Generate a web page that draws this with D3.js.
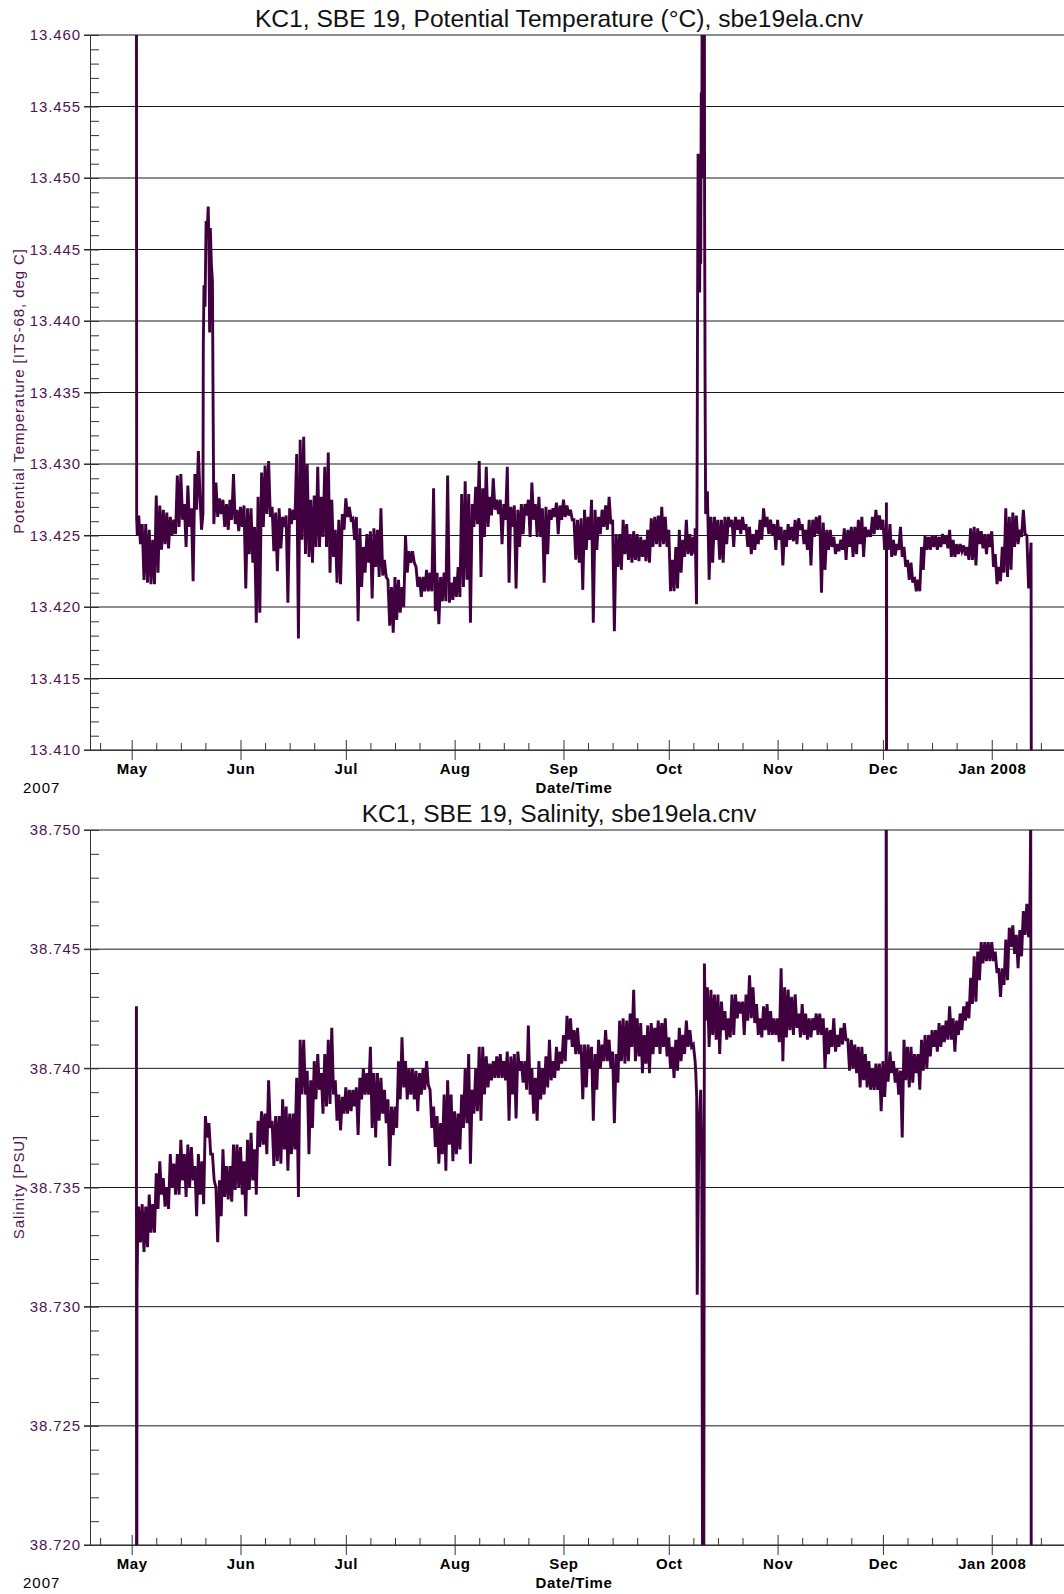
<!DOCTYPE html>
<html>
<head>
<meta charset="utf-8">
<script src="https://cdn.jsdelivr.net/npm/d3@7"></script>
<style>
  body { margin: 0; background: #fff; }
  text { font-family: "Liberation Sans", Arial, sans-serif; }
</style>
</head>
<body>
<div id="maincontent"></div>
<script>
// day offsets are counted from 1 May 2007 00:00 UTC
var dayZero = Date.UTC(2007, 4, 1);
var firstDay = 2;   // first entry of the daily arrays

var monthTicks = ["May", "Jun", "Jul", "Aug", "Sep", "Oct", "Nov", "Dec", "Jan 2008"];
var tempTicks = [13.410, 13.415, 13.420, 13.425, 13.430, 13.435, 13.440, 13.445, 13.450, 13.455, 13.460];
var salTicks = [38.720, 38.725, 38.730, 38.735, 38.740, 38.745, 38.750];

// potential temperature, daily high / low (days 2..256)
var tempHi = [
  13.4264, 13.4258, 13.4258, 13.4254, 13.4247, 13.4278, 13.4271, 13.4268, 13.4266, 13.4263,
  13.4261, 13.4292, 13.4293, 13.4272, 13.4285, 13.4269, 13.4293, 13.4309, null, null,
  null, null, 13.4287, 13.4276, 13.4275, 13.4272, 13.4275, 13.4293, 13.4268, 13.4270,
  13.4271, 13.4269, 13.4269, 13.4256, 13.4277, 13.4294, 13.4299, 13.4302, 13.4270, 13.4266,
  13.4269, 13.4263, 13.4264, 13.4269, 13.4268, 13.4307, 13.4317, 13.4319, 13.4300, 13.4275,
  13.4278, 13.4298, 13.4277, 13.4298, 13.4308, 13.4275, 13.4254, 13.4261, 13.4265, 13.4276,
  13.4270, 13.4262, 13.4263, 13.4255, 13.4242, 13.4251, 13.4253, 13.4255, 13.4254, 13.4269,
  13.4233, 13.4219, 13.4214, 13.4221, 13.4219, 13.4214, 13.4250, 13.4239, 13.4239, 13.4228,
  13.4221, 13.4221, 13.4226, 13.4224, 13.4283, 13.4224, 13.4221, 13.4224, 13.4292, 13.4217,
  13.4221, 13.4228, 13.4279, 13.4288, 13.4279, 13.4272, 13.4284, 13.4302, 13.4283, 13.4298,
  13.4277, 13.4290, 13.4275, 13.4275, 13.4272, 13.4298, 13.4270, 13.4271, 13.4268, 13.4272,
  13.4272, 13.4275, 13.4287, 13.4272, 13.4277, 13.4269, 13.4270, 13.4268, 13.4269, 13.4273,
  13.4271, 13.4275, 13.4271, 13.4268, 13.4261, 13.4261, 13.4262, 13.4268, 13.4263, 13.4275,
  13.4268, 13.4263, 13.4268, 13.4271, 13.4277, 13.4261, 13.4251, 13.4251, 13.4261, 13.4258,
  13.4251, 13.4253, 13.4251, 13.4249, 13.4247, 13.4254, 13.4262, 13.4263, 13.4264, 13.4270,
  13.4263, 13.4254, 13.4233, 13.4242, 13.4254, 13.4247, 13.4261, 13.4251, 13.4249, null,
  null, null, 13.4281, 13.4263, 13.4263, 13.4261, 13.4261, 13.4263, 13.4263, 13.4261,
  13.4263, 13.4261, 13.4263, 13.4258, 13.4256, 13.4251, 13.4254, 13.4261, 13.4269, 13.4263,
  13.4261, 13.4258, 13.4261, 13.4256, 13.4254, 13.4258, 13.4256, 13.4261, 13.4262, 13.4258,
  13.4254, 13.4261, 13.4261, 13.4263, 13.4264, 13.4259, 13.4254, 13.4254, 13.4249, 13.4244,
  13.4247, 13.4255, 13.4254, 13.4256, 13.4256, 13.4261, 13.4263, 13.4256, 13.4254, 13.4263,
  13.4268, 13.4264, 13.4261, 13.4256, 13.4258, 13.4247, 13.4244, 13.4256, 13.4242, 13.4233,
  13.4231, 13.4221, 13.4219, 13.4242, 13.4250, 13.4249, 13.4250, 13.4250, 13.4249, 13.4251,
  13.4250, 13.4254, 13.4247, 13.4244, 13.4244, 13.4243, 13.4242, 13.4255, 13.4256, 13.4255,
  13.4253, 13.4251, 13.4251, 13.4253, 13.4237, 13.4228, 13.4242, 13.4269, 13.4263, 13.4266,
  13.4264, 13.4254, 13.4268, 13.4250, null
];
var tempLo = [
  13.4244, 13.4219, 13.4217, 13.4216, 13.4216, 13.4224, 13.4240, 13.4244, 13.4241, 13.4250,
  13.4251, 13.4256, 13.4261, 13.4242, 13.4256, 13.4218, 13.4268, 13.4275, null, null,
  null, null, 13.4263, 13.4265, 13.4256, 13.4254, 13.4261, 13.4258, 13.4253, 13.4256,
  13.4213, 13.4237, 13.4231, 13.4189, 13.4196, 13.4256, 13.4265, 13.4263, 13.4239, 13.4225,
  13.4241, 13.4256, 13.4203, 13.4258, 13.4261, 13.4178, 13.4247, 13.4237, 13.4235, 13.4231,
  13.4242, 13.4242, 13.4249, 13.4242, 13.4224, 13.4235, 13.4217, 13.4216, 13.4254, 13.4263,
  13.4261, 13.4247, 13.4190, 13.4214, 13.4224, 13.4231, 13.4206, 13.4228, 13.4221, 13.4222,
  13.4221, 13.4187, 13.4182, 13.4191, 13.4196, 13.4200, 13.4224, 13.4231, 13.4231, 13.4214,
  13.4207, 13.4211, 13.4211, 13.4211, 13.4197, 13.4188, 13.4204, 13.4204, 13.4203, 13.4205,
  13.4207, 13.4207, 13.4214, 13.4219, 13.4189, 13.4256, 13.4258, 13.4221, 13.4249, 13.4256,
  13.4264, 13.4268, 13.4265, 13.4244, 13.4261, 13.4217, 13.4256, 13.4213, 13.4242, 13.4251,
  13.4264, 13.4249, 13.4261, 13.4249, 13.4249, 13.4217, 13.4237, 13.4261, 13.4263, 13.4251,
  13.4261, 13.4263, 13.4264, 13.4261, 13.4233, 13.4231, 13.4212, 13.4240, 13.4247, 13.4189,
  13.4240, 13.4251, 13.4256, 13.4254, 13.4258, 13.4183, 13.4228, 13.4226, 13.4237, 13.4233,
  13.4231, 13.4233, 13.4232, 13.4235, 13.4232, 13.4231, 13.4242, 13.4244, 13.4242, 13.4244,
  13.4242, 13.4211, 13.4211, 13.4213, 13.4224, 13.4235, 13.4237, 13.4236, 13.4237, null,
  null, null, 13.4219, 13.4231, 13.4247, 13.4233, 13.4231, 13.4244, 13.4256, 13.4242,
  13.4254, 13.4251, 13.4254, 13.4242, 13.4237, 13.4240, 13.4244, 13.4247, 13.4256, 13.4251,
  13.4250, 13.4240, 13.4247, 13.4229, 13.4242, 13.4247, 13.4246, 13.4244, 13.4254, 13.4244,
  13.4240, 13.4229, 13.4249, 13.4251, 13.4210, 13.4226, 13.4240, 13.4242, 13.4237, 13.4239,
  13.4240, 13.4233, 13.4242, 13.4235, 13.4237, 13.4244, 13.4235, 13.4249, 13.4249, 13.4251,
  13.4254, 13.4254, 13.4240, 13.4240, 13.4235, 13.4236, 13.4240, 13.4235, 13.4228, 13.4219,
  13.4217, 13.4211, 13.4211, 13.4226, 13.4240, 13.4240, 13.4242, 13.4240, 13.4242, 13.4244,
  13.4241, 13.4235, 13.4235, 13.4237, 13.4239, 13.4236, 13.4233, 13.4233, 13.4229, 13.4244,
  13.4241, 13.4237, 13.4242, 13.4228, 13.4216, 13.4218, 13.4224, 13.4221, 13.4226, 13.4242,
  13.4244, 13.4249, 13.4251, 13.4213, null
];
// single samples and short events (deployment, spikes, recovery)
var tempSpikeDays = [1.35, 1.42, 1.6,
  19.9, 20.3, 20.4, 20.6, 20.9, 21.2, 21.5, 21.8, 22.0, 22.2, 22.4, 22.7, 23.0, 23.2, 23.4,
  160.5, 160.9, 161.0, 161.1, 161.2, 161.35, 161.5, 161.65, 161.8, 161.95, 162.1, 162.25, 162.4,
  162.55, 162.7, 162.85, 163.0, 163.1, 163.2, 163.35, 163.5,
  215.0, 215.03, 215.06,
  256.2, 256.3];
var tempSpikeVals = [13.470, 13.4262, 13.4250,
  13.4254, 13.4265, 13.4382, 13.4425, 13.4410, 13.4470, 13.4462, 13.4480, 13.4455, 13.4392, 13.4465, 13.4440, 13.4428, 13.4338, 13.4258,
  13.4255, 13.4202, 13.4255, 13.4317, 13.4410, 13.4517, 13.4440, 13.4505, 13.4420, 13.4500, 13.4440, 13.4560, 13.4500,
  13.4700, 13.4570, 13.4700, 13.4600, 13.4700, 13.4480, 13.4347, 13.4265,
  13.4273, 13.4000, 13.4245,
  13.4245, 13.4000];

// salinity, daily high / low (days 2..256)
var salHi = [
  38.7342, 38.7343, 38.7342, 38.7347, 38.7343, 38.7356, 38.7361, 38.7354, 38.7350, 38.7364,
  38.7360, 38.7364, 38.7370, 38.7364, 38.7368, 38.7367, 38.7359, 38.7364, 38.7361, 38.7380,
  38.7377, 38.7364, 38.7350, 38.7353, 38.7366, 38.7359, 38.7359, 38.7368, 38.7368, 38.7367,
  38.7361, 38.7370, 38.7373, 38.7366, 38.7378, 38.7382, 38.7381, 38.7395, 38.7378, 38.7380,
  38.7380, 38.7387, 38.7384, 38.7381, 38.7381, 38.7396, 38.7412, 38.7412, 38.7399, 38.7395,
  38.7403, 38.7406, 38.7398, 38.7406, 38.7412, 38.7417, 38.7395, 38.7389, 38.7388, 38.7392,
  38.7391, 38.7391, 38.7392, 38.7396, 38.7400, 38.7398, 38.7409, 38.7398, 38.7398, 38.7396,
  38.7391, 38.7387, 38.7384, 38.7384, 38.7403, 38.7413, 38.7403, 38.7400, 38.7400, 38.7399,
  38.7398, 38.7400, 38.7403, 38.7391, 38.7384, 38.7380, 38.7377, 38.7389, 38.7395, 38.7389,
  38.7382, 38.7381, 38.7389, 38.7400, 38.7406, 38.7391, 38.7400, 38.7409, 38.7409, 38.7405,
  38.7402, 38.7403, 38.7405, 38.7406, 38.7403, 38.7407, 38.7405, 38.7406, 38.7407, 38.7403,
  38.7403, 38.7418, 38.7400, 38.7396, 38.7403, 38.7400, 38.7405, 38.7412, 38.7403, 38.7409,
  38.7407, 38.7414, 38.7422, 38.7421, 38.7416, 38.7417, 38.7410, 38.7410, 38.7410, 38.7409,
  38.7406, 38.7412, 38.7410, 38.7416, 38.7412, 38.7407, 38.7406, 38.7420, 38.7421, 38.7420,
  38.7423, 38.7433, 38.7421, 38.7419, 38.7414, 38.7418, 38.7419, 38.7417, 38.7420, 38.7419,
  38.7421, 38.7413, 38.7409, 38.7412, 38.7417, 38.7414, 38.7420, 38.7416, 38.7410, null,
  null, null, 38.7434, 38.7433, 38.7431, 38.7431, 38.7428, 38.7424, 38.7421, 38.7431,
  38.7431, 38.7428, 38.7428, 38.7431, 38.7439, 38.7434, 38.7427, 38.7421, 38.7426, 38.7427,
  38.7424, 38.7421, 38.7421, 38.7442, 38.7434, 38.7433, 38.7430, 38.7431, 38.7423, 38.7427,
  38.7423, 38.7421, 38.7421, 38.7423, 38.7423, 38.7421, 38.7417, 38.7416, 38.7421, 38.7414,
  38.7417, 38.7419, 38.7412, 38.7412, 38.7410, 38.7409, 38.7409, 38.7406, 38.7403, 38.7400,
  38.7402, 38.7402, 38.7403, 38.7403, 38.7407, 38.7403, 38.7400, 38.7399, 38.7412, 38.7409,
  38.7409, 38.7406, 38.7406, 38.7412, 38.7414, 38.7414, 38.7416, 38.7416, 38.7419, 38.7418,
  38.7420, 38.7426, 38.7421, 38.7420, 38.7423, 38.7426, 38.7428, 38.7438, 38.7447, 38.7449,
  38.7453, 38.7453, 38.7453, 38.7453, 38.7449, 38.7442, 38.7442, 38.7454, 38.7459, 38.7460,
  38.7456, 38.7458, 38.7466, 38.7469, null
];
var salLo = [
  38.7327, 38.7323, 38.7325, 38.7331, 38.7331, 38.7341, 38.7347, 38.7342, 38.7341, 38.7350,
  38.7347, 38.7347, 38.7353, 38.7346, 38.7350, 38.7353, 38.7338, 38.7347, 38.7343, 38.7371,
  38.7364, 38.7353, 38.7327, 38.7338, 38.7346, 38.7345, 38.7344, 38.7349, 38.7350, 38.7347,
  38.7338, 38.7349, 38.7353, 38.7347, 38.7367, 38.7368, 38.7364, 38.7375, 38.7359, 38.7361,
  38.7360, 38.7366, 38.7357, 38.7364, 38.7366, 38.7346, 38.7389, 38.7389, 38.7364, 38.7375,
  38.7387, 38.7391, 38.7381, 38.7384, 38.7385, 38.7389, 38.7378, 38.7374, 38.7381, 38.7381,
  38.7382, 38.7384, 38.7372, 38.7387, 38.7389, 38.7389, 38.7375, 38.7371, 38.7378, 38.7381,
  38.7377, 38.7359, 38.7372, 38.7375, 38.7387, 38.7392, 38.7387, 38.7389, 38.7387, 38.7382,
  38.7389, 38.7391, 38.7393, 38.7375, 38.7367, 38.7360, 38.7364, 38.7357, 38.7368, 38.7361,
  38.7364, 38.7366, 38.7375, 38.7377, 38.7360, 38.7381, 38.7382, 38.7378, 38.7389, 38.7392,
  38.7395, 38.7396, 38.7396, 38.7396, 38.7395, 38.7378, 38.7389, 38.7379, 38.7399, 38.7394,
  38.7391, 38.7389, 38.7381, 38.7378, 38.7387, 38.7389, 38.7392, 38.7395, 38.7396, 38.7399,
  38.7402, 38.7403, 38.7412, 38.7409, 38.7406, 38.7406, 38.7387, 38.7392, 38.7400, 38.7378,
  38.7391, 38.7400, 38.7403, 38.7403, 38.7400, 38.7377, 38.7394, 38.7403, 38.7402, 38.7403,
  38.7409, 38.7403, 38.7405, 38.7398, 38.7402, 38.7398, 38.7406, 38.7409, 38.7406, 38.7409,
  38.7405, 38.7400, 38.7396, 38.7399, 38.7403, 38.7406, 38.7409, 38.7409, 38.7403, null,
  null, null, 38.7409, 38.7414, 38.7412, 38.7406, 38.7416, 38.7412, 38.7413, 38.7414,
  38.7421, 38.7423, 38.7414, 38.7420, 38.7421, 38.7419, 38.7414, 38.7413, 38.7416, 38.7414,
  38.7414, 38.7414, 38.7411, 38.7403, 38.7413, 38.7416, 38.7414, 38.7417, 38.7413, 38.7414,
  38.7412, 38.7413, 38.7416, 38.7414, 38.7414, 38.7400, 38.7406, 38.7409, 38.7407, 38.7409,
  38.7410, 38.7412, 38.7399, 38.7400, 38.7398, 38.7392, 38.7395, 38.7392, 38.7391, 38.7391,
  38.7391, 38.7382, 38.7388, 38.7395, 38.7398, 38.7394, 38.7389, 38.7371, 38.7395, 38.7392,
  38.7394, 38.7398, 38.7391, 38.7399, 38.7400, 38.7405, 38.7409, 38.7407, 38.7409, 38.7411,
  38.7412, 38.7412, 38.7407, 38.7414, 38.7416, 38.7420, 38.7421, 38.7427, 38.7428, 38.7437,
  38.7444, 38.7445, 38.7445, 38.7445, 38.7440, 38.7430, 38.7435, 38.7437, 38.7451, 38.7448,
  38.7442, 38.7447, 38.7456, 38.7455, null
];
var salSpikeDays = [1.35, 1.42, 1.5, 1.7,
  160.7, 160.95, 161.1, 161.6, 162.1, 162.4, 162.85, 163.15, 163.4,
  214.9, 214.95, 215.0,
  255.8, 256.0, 256.1, 256.2, 256.3];
var salSpikeVals = [38.7426, 38.7000, 38.7305, 38.7330,
  38.7398, 38.7388, 38.7305, 38.7375, 38.7391, 38.7361, 38.7000, 38.7444, 38.7420,
  38.7400, 38.7600, 38.7395,
  38.7460, 38.7487, 38.7510, 38.7347, 38.7000];

var W = 1064, H = 1594;
var left = 90, right = 1064;
var purple = "#400040";
var labelPurple = "#501450";

var svg = d3.select("#maincontent")
  .append("svg")
  .attr("width", W)
  .attr("height", H);

var x = d3.scaleUtc()
  .domain([new Date(Date.UTC(2007, 3, 19, 3)), new Date(Date.UTC(2008, 0, 21, 14))])
  .range([left, right]);

function dayDate(d) {
  return new Date(dayZero + d * 86400000);
}

function buildPoints(hi, lo, spikeDays, spikeVals) {
  var pts = [];
  for (var i = 0; i < hi.length; i++) {
    if (hi[i] == null) continue;
    pts.push({ t: dayDate(firstDay + i), v: hi[i] });
    pts.push({ t: dayDate(firstDay + i + 0.5), v: lo[i] });
  }
  for (var j = 0; j < spikeDays.length; j++) {
    pts.push({ t: dayDate(spikeDays[j]), v: spikeVals[j] });
  }
  pts.sort(function(a, b) { return a.t - b.t; });
  return pts;
}

function drawPlot(cfg) {
  var y = d3.scaleLinear().domain(cfg.domain).range([cfg.bottom, cfg.top]);
  var g = svg.append("g");

  // horizontal grid at every labelled value
  g.selectAll("line.grid")
    .data(cfg.ticks)
    .enter()
    .append("line")
    .attr("x1", left - 6)
    .attr("x2", right)
    .attr("y1", function(d) { return y(d); })
    .attr("y2", function(d) { return y(d); })
    .attr("stroke", "#1a1a1a")
    .attr("stroke-width", 1);

  // left axis with labels
  var yAxis = g.append("g")
    .attr("transform", "translate(" + left + ",0)")
    .call(d3.axisLeft(y).tickValues(cfg.ticks).tickFormat(d3.format(".3f"))
      .tickSize(6).tickSizeOuter(0).tickPadding(3));
  yAxis.select(".domain").attr("stroke", "#333");
  yAxis.selectAll("line").attr("stroke", "#333");
  yAxis.selectAll("text")
    .attr("font-size", "15px")
    .attr("letter-spacing", "0.9px")
    .attr("font-family", "Liberation Sans, Arial, sans-serif")
    .attr("fill", labelPurple);

  // minor ticks inside
  var minor = d3.range(Math.round(cfg.domain[0] * 1000), Math.round(cfg.domain[1] * 1000) + 1)
    .map(function(k) { return k / 1000; });
  var yMinor = g.append("g")
    .attr("transform", "translate(" + left + ",0)")
    .call(d3.axisRight(y).tickValues(minor).tickSize(9).tickFormat(""));
  yMinor.select(".domain").remove();
  yMinor.selectAll("line").attr("stroke", "#333");

  // x axis, month ticks crossing the line
  var xAxis = g.append("g")
    .attr("transform", "translate(0," + cfg.bottom + ")")
    .call(d3.axisBottom(x).ticks(d3.utcMonth)
      .tickFormat(function(d, i) { return monthTicks[i]; })
      .tickSize(10).tickSizeOuter(0).tickPadding(3.5));
  xAxis.select(".domain").attr("stroke", "#333");
  xAxis.selectAll("line").attr("stroke", "#333");
  xAxis.selectAll("text")
    .attr("font-size", "15px")
    .attr("font-weight", "bold")
    .attr("letter-spacing", "0.6px")
    .attr("font-family", "Liberation Sans, Arial, sans-serif")
    .attr("fill", "#000");

  var xUp = g.append("g")
    .attr("transform", "translate(0," + cfg.bottom + ")")
    .call(d3.axisTop(x).ticks(d3.utcMonth).tickSize(10).tickFormat(""));
  xUp.select(".domain").remove();
  xUp.selectAll("line").attr("stroke", "#333");

  var weeks = d3.utcDay.range(x.domain()[0], x.domain()[1]).filter(function(d) {
    var dd = d.getUTCDate();
    return dd === 8 || dd === 15 || dd === 22;
  });
  var xMinor = g.append("g")
    .attr("transform", "translate(0," + cfg.bottom + ")")
    .call(d3.axisTop(x).tickValues(weeks).tickSize(7).tickFormat(""));
  xMinor.select(".domain").remove();
  xMinor.selectAll("line").attr("stroke", "#333");

  // data
  g.append("clipPath")
    .attr("id", cfg.id + "-clip")
    .append("rect")
    .attr("x", left)
    .attr("y", cfg.top)
    .attr("width", right - left)
    .attr("height", cfg.bottom - cfg.top);

  var line = d3.line()
    .x(function(d) { return x(d.t); })
    .y(function(d) { return y(d.v); });

  g.append("path")
    .datum(buildPoints(cfg.hi, cfg.lo, cfg.spikeDays, cfg.spikeVals))
    .attr("clip-path", "url(#" + cfg.id + "-clip)")
    .attr("d", line)
    .attr("fill", "none")
    .attr("stroke", purple)
    .attr("stroke-width", 2.9);

  // texts
  g.append("text")
    .text(cfg.title)
    .attr("x", 559)
    .attr("y", cfg.top - 8)
    .attr("text-anchor", "middle")
    .attr("font-size", "24.6px")
    .attr("fill", "#111");

  g.append("text")
    .text(cfg.yLabel)
    .attr("transform", "translate(24," + cfg.labelY + ") rotate(-90)")
    .attr("text-anchor", "middle")
    .attr("font-size", "15px")
    .attr("letter-spacing", "0.9px")
    .attr("fill", labelPurple);

  g.append("text")
    .text("2007")
    .attr("x", 23)
    .attr("y", cfg.bottom + 43)
    .attr("font-size", "15px")
    .attr("letter-spacing", "1px")
    .attr("fill", "#000");

  g.append("text")
    .text("Date/Time")
    .attr("x", 574)
    .attr("y", cfg.bottom + 43)
    .attr("text-anchor", "middle")
    .attr("font-size", "15px")
    .attr("font-weight", "bold")
    .attr("letter-spacing", "0.6px")
    .attr("fill", "#000");
}

drawPlot({
  id: "temp",
  top: 35,
  bottom: 750,
  domain: [13.410, 13.460],
  ticks: tempTicks,
  hi: tempHi,
  lo: tempLo,
  spikeDays: tempSpikeDays,
  spikeVals: tempSpikeVals,
  title: "KC1, SBE 19, Potential Temperature (\u00B0C), sbe19ela.cnv",
  yLabel: "Potential Temperature [ITS-68, deg C]",
  labelY: 391
});

drawPlot({
  id: "sal",
  top: 830,
  bottom: 1545,
  domain: [38.720, 38.750],
  ticks: salTicks,
  hi: salHi,
  lo: salLo,
  spikeDays: salSpikeDays,
  spikeVals: salSpikeVals,
  title: "KC1, SBE 19, Salinity, sbe19ela.cnv",
  yLabel: "Salinity [PSU]",
  labelY: 1187
});
</script>
</body>
</html>
